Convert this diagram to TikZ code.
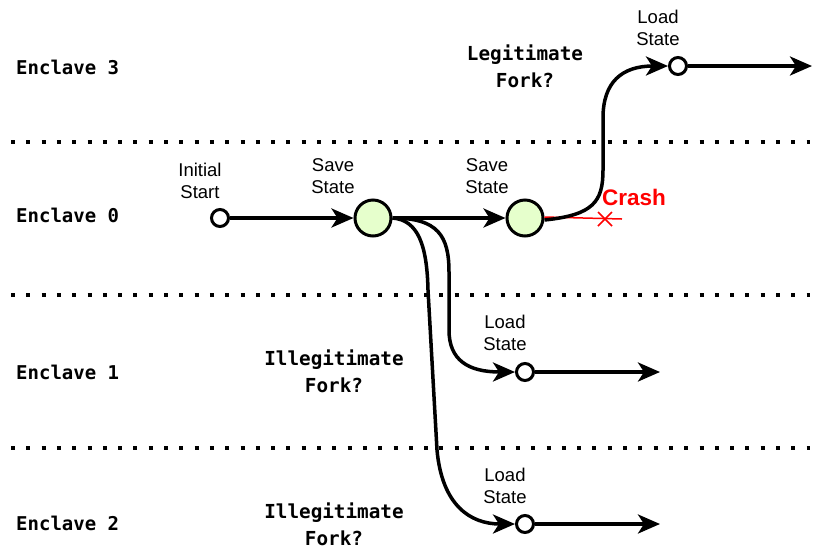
\documentclass[tikz,border=0pt]{standalone}
\usepackage{fontspec}
\setmainfont{Liberation Sans}
\setmonofont{DejaVu Sans Mono}
\usetikzlibrary{arrows.meta,calc}
\definecolor{savegreen}{HTML}{E6FFCC}
\definecolor{crashred}{HTML}{FF0000}
\begin{document}
\begin{tikzpicture}[x=1pt,y=-1pt,
  lane/.style={line width=4pt, dash pattern=on 4pt off 11.3pt},
  flow/.style={line width=3.5pt, -{Stealth[length=22pt,width=19pt,inset=6pt]}},
  savept/.style={circle, draw, line width=3pt, fill=savegreen, minimum size=36pt, inner sep=0pt},
  loadpt/.style={circle, draw, line width=3pt, fill=white, minimum size=17pt, inner sep=0pt},
  lab/.style={font=\fontsize{18.5}{22.5}\selectfont, align=center},
  enc/.style={font=\ttfamily\bfseries\fontsize{19}{27}\selectfont, anchor=west, inner sep=0pt},
  fork/.style={font=\ttfamily\bfseries\fontsize{19.3}{27}\selectfont, align=center, inner sep=0pt}]
\useasboundingbox (0,0) rectangle (817,550);

% lane separators
\draw[lane] (11,142) -- (810,142);
\draw[lane] (11,295) -- (810,295);
\draw[lane] (11,448) -- (810,448);

% lane names
\node[enc] (e3) at (16,67) {Enclave 3};
\node[enc] (e0) at (16,215) {Enclave 0};
\node[enc] (e1) at (16,372) {Enclave 1};
\node[enc] (e2) at (16,523) {Enclave 2};

% fork annotations
\node[fork] (legit) at (525,66) {Legitimate\\Fork?};
\node[fork] (illegit1) at (334,371) {Illegitimate\\Fork?};
\node[fork] (illegit2) at (334,524) {Illegitimate\\Fork?};

% crash (drawn first so the fork curve lies on top)
\coordinate (crashend) at (622,219);
\coordinate (crashx) at (605,219);
\node[text=crashred, font=\bfseries\fontsize{22.5}{25}\selectfont] (crash) at (634,197) {Crash};

% points
\node[loadpt] (start) at (220,218) {};
\node[savept] (save2) at (525,218) {};
\draw[crashred, line width=1.5pt] ([yshift=1pt]save2.east) -- (crashend);
\draw[crashred, line width=1.5pt] ($(crashx)+(-7,-7)$) -- ($(crashx)+(7,7)$)
  ($(crashx)+(-7,7)$) -- ($(crashx)+(7,-7)$);
\node[savept] (save1) at (373,218) {};
\node[loadpt] (load3) at (678,66) {};
\node[loadpt] (load1) at (525,372) {};
\node[loadpt] (load2) at (525,524) {};

\coordinate (end3) at (812,66);
\coordinate (end1) at (660,372);
\coordinate (end2) at (660,524);

% point labels
\node[lab] (lstart) at (200,181) {Initial\\Start};
\node[lab] (lsave1) at (333,176) {Save\\State};
\node[lab] (lsave2) at (487,176) {Save\\State};
\node[lab] (lload3) at (658,28) {Load\\State};
\node[lab] (lload1) at (505,333) {Load\\State};
\node[lab] (lload2) at (505,486) {Load\\State};

% main flow
\draw[flow] (start) -- (save1);
\draw[flow] (save1) -- (save2);

% forks
\draw[flow] ([yshift=-2pt]save2.east) .. controls (593,215) and (603,202) .. (603,170)
  -- (603,118) .. controls (603,82) and (622,66) .. (load3.west);
\draw[flow] (save1.east) .. controls (438,218) and (449,236) .. (449,272)
  -- (449,330) .. controls (449,360) and (468,372) .. (load1.west);
\draw[flow] (save1.east) .. controls (418,220) and (427,245) .. (428,290)
  -- (437,450) .. controls (442,505) and (470,524) .. (load2.west);

% outgoing
\draw[flow] (load3) -- (end3);
\draw[flow] (load1) -- (end1);
\draw[flow] (load2) -- (end2);
\end{tikzpicture}
\end{document}
